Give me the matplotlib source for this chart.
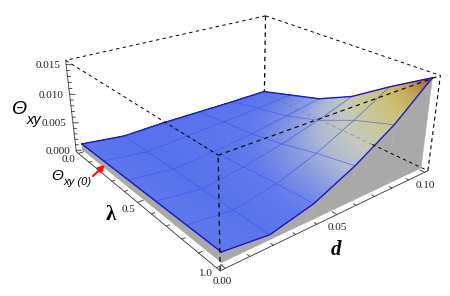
import numpy as np
import matplotlib
matplotlib.use('Agg')
import matplotlib.pyplot as plt
from matplotlib.colors import LinearSegmentedColormap
from mpl_toolkits.mplot3d.art3d import Poly3DCollection

# data
lam = [0.0, 0.2, 0.4, 0.6, 0.8, 1.0]
d = [0.0, 0.02, 0.04, 0.06, 0.08, 0.10]
# rows are lam, columns are d
theta = [
    [0.0012, 0.0003, 0.0005, 0.0005, 0.0005, 0.0006],
    [0.0013, 0.0004, 0.0009, 0.0013, 0.0018, 0.0024],
    [0.0014, 0.0005, 0.0011, 0.0019, 0.0030, 0.0042],
    [0.0015, 0.0006, 0.0016, 0.0031, 0.0050, 0.0072],
    [0.0016, 0.0008, 0.0022, 0.0046, 0.0078, 0.0114],
    [0.0017, 0.0009, 0.0026, 0.0058, 0.0099, 0.0153],
]
floor = 0.0001
lam_labels = ['0.0', '0.5', '1.0']
d_labels = ['0.00', '0.05', '0.10']
z_labels = ['0.000', '0.005', '0.010', '0.015']

lam_lim = (-0.02, 1.02)
d_lim = (-0.002, 0.102)
z_lim = (-0.0003, 0.0157)

SERIF = 'Liberation Serif'
SANS = 'Liberation Sans'
W, H = 450, 296

fig = plt.figure(figsize=(W / 100, H / 100), dpi=100)
ax = fig.add_axes([-0.2 + 14.218 / W, -0.6 + 34.325 / H, 1.4, 2.128], projection='3d')
ax.computed_zorder = False
ax.set_axis_off()
ax.patch.set_visible(False)

L = np.array(lam)
D = np.array(d)
Z = np.array(theta)

# colour follows height, finer cells are only for the smooth shading
cmap = LinearSegmentedColormap.from_list('surf', [
    (0.00, '#5470ec'), (0.12, '#6079ec'), (0.22, '#8396e2'), (0.33, '#adb8d4'),
    (0.45, '#c4c8bf'), (0.58, '#cac796'), (0.72, '#cbbf6e'), (0.84, '#c0a257'),
    (0.94, '#a96b45'), (1.00, '#8f4a3c')])
n = 16
Lf = np.interp(np.linspace(0, 5, 5 * n + 1), np.arange(6), L)
Df = np.interp(np.linspace(0, 5, 5 * n + 1), np.arange(6), D)
Zc = np.array([np.interp(Df, D, row) for row in Z])
Zf = np.array([np.interp(Lf, L, col) for col in Zc.T]).T
DD, LL = np.meshgrid(Df, Lf)

line_kw = dict(color='k', lw=0.7, ls=(0, (3.5, 3.5)))
lo_l, hi_l = lam_lim
lo_d, hi_d = d_lim
lo_z, hi_z = z_lim

# back edges, under the surface
ax.plot([lo_l, lo_l], [hi_d, lo_d], [hi_z, hi_z], zorder=1, **line_kw)
ax.plot([lo_l, hi_l], [hi_d, hi_d], [hi_z, hi_z], zorder=1, **line_kw)
ax.plot([lo_l, lo_l], [hi_d, hi_d], [lo_z, hi_z], zorder=1, color='k', lw=0.9, ls=(0, (3.5, 3)))
ax.plot([hi_l, hi_l], [hi_d, hi_d], [lo_z, hi_z], zorder=1, color='k', lw=0.8, ls=(0, (3.5, 3)))

# grey walls from the surface edges down to the floor
walls = []
for i in range(5):
    walls.append([(L[i], D[0], Z[i, 0]), (L[i + 1], D[0], Z[i + 1, 0]),
                  (L[i + 1], D[0], floor), (L[i], D[0], floor)])
    walls.append([(L[-1], D[i], Z[-1, i]), (L[-1], D[i + 1], Z[-1, i + 1]),
                  (L[-1], D[i + 1], floor), (L[-1], D[i], floor)])
wall = Poly3DCollection(walls, facecolor='#a9a9a9', edgecolor='#a9a9a9', linewidth=0.3, zorder=2)
ax.add_collection3d(wall)

ax.plot_surface(LL, DD, Zf, facecolors=cmap(Zf / 0.0153), rstride=1, cstride=1, shade=False,
                linewidth=0, antialiased=False, zorder=3)

# mesh
for i in range(1, 5):
    ax.plot(L, [D[i]] * 6, Z[:, i], color='#3f55f0', lw=0.55, alpha=0.75, zorder=4)
    ax.plot([L[i]] * 6, D, Z[i], color='#3f55f0', lw=0.55, alpha=0.75, zorder=4)
# boundary
for xs, ys, zs in [(L, [D[0]] * 6, Z[:, 0]), (L, [D[-1]] * 6, Z[:, -1]),
                   ([L[0]] * 6, D, Z[0]), ([L[-1]] * 6, D, Z[-1])]:
    ax.plot(xs, ys, zs, color='#1a1ac4', lw=1.0, zorder=5)

# bottom back edges show faintly through the surface, dark once past its front edge
cross = 0.72
ax.plot([lo_l, cross], [hi_d, hi_d], [lo_z, lo_z], color='#777777', lw=0.7, ls=(0, (3.5, 3.5)), alpha=0.6, zorder=6)
ax.plot([cross, hi_l], [hi_d, hi_d], [lo_z, lo_z], zorder=6, **line_kw)
ax.plot([lo_l, lo_l], [lo_d, hi_d], [lo_z, lo_z], color='#777777', lw=0.7, ls=(0, (3.5, 3.5)), alpha=0.3, zorder=6)

# front edges, over the surface
ax.plot([lo_l, hi_l], [lo_d, lo_d], [hi_z, hi_z], zorder=7, **line_kw)
ax.plot([hi_l, hi_l], [lo_d, hi_d], [hi_z, hi_z], zorder=7, color='#111111', lw=0.9, ls=(0, (3.5, 3)))
ax.plot([hi_l, hi_l], [lo_d, lo_d], [lo_z, hi_z], zorder=7, color='#111111', lw=1.0, ls=(0, (3.5, 3)))

# solid axes with ticks
axis_kw = dict(color='#333333', lw=0.6, zorder=8)
ax.plot([lo_l, hi_l], [lo_d, lo_d], [lo_z, lo_z], **axis_kw)
ax.plot([hi_l, hi_l], [lo_d, hi_d], [lo_z, lo_z], **axis_kw)
ax.plot([lo_l, lo_l], [lo_d, lo_d], [lo_z, hi_z], color='#555555', lw=0.7, zorder=8)
for t in np.arange(0, 11) / 10:
    s = 2.0 if round(t * 10) % 5 == 0 else 1.1
    ax.plot([t, t], [lo_d, lo_d + 0.0012 * s], [lo_z, lo_z], **axis_kw)
for t in np.arange(0, 11) / 100:
    s = 2.0 if round(t * 100) % 5 == 0 else 1.1
    ax.plot([hi_l, hi_l - 0.012 * s], [t, t], [lo_z, lo_z], **axis_kw)
for t in np.arange(0, 16) / 1000:
    s = 2.0 if round(t * 1000) % 5 == 0 else 1.1
    ax.plot([lo_l, lo_l + 0.008 * s], [lo_d, lo_d + 0.0008 * s], [t, t], **axis_kw)

ax.set_xlim(*lam_lim)
ax.set_ylim(*d_lim)
ax.set_zlim(*z_lim)
ax.view_init(24.476, -38.616, -0.188)
ax.set_proj_type('persp', focal_length=0.19547)
ax.set_box_aspect((1, 1.0105, 0.39913), zoom=0.58373)


def label(x, y, s, **kw):
    kw.setdefault('ha', 'center')
    kw.setdefault('va', 'center')
    fig.text(x / W, 1 - y / H, s, **kw)


tick_kw = dict(family=SERIF, fontsize=8, color='#222222')
for (x, y), s in zip([(69, 160), (128, 210), (206, 274)], lam_labels):
    label(x, y, s, **tick_kw)
for (x, y), s in zip([(222, 281), (337, 228), (425, 185)], d_labels):
    label(x, y, s, **tick_kw)
for (x, y), s in zip([(58, 152), (54, 124), (51, 95), (48, 65)], z_labels):
    label(x, y, s, **tick_kw)

label(19, 110, 'Θ', family=SANS, style='italic', fontsize=14)
label(34, 120, 'xy', family=SANS, style='italic', fontsize=10.5)
label(57, 176, 'Θ', family=SANS, style='italic', fontsize=11)
label(78, 182, 'xy (0)', family=SANS, style='italic', fontsize=8)
label(111, 215, 'λ', family=SERIF, weight='bold', fontsize=15)
label(336, 250, 'd', family=SERIF, weight='bold', style='italic', fontsize=15)

fig.add_artist(matplotlib.patches.FancyArrowPatch(
    (93 / W, 1 - 176 / H), (105 / W, 1 - 165 / H), transform=fig.transFigure,
    arrowstyle='-|>', mutation_scale=10, color='#ff1010', lw=1.5, shrinkA=0, shrinkB=0))

fig.savefig('out.png', dpi=100)
